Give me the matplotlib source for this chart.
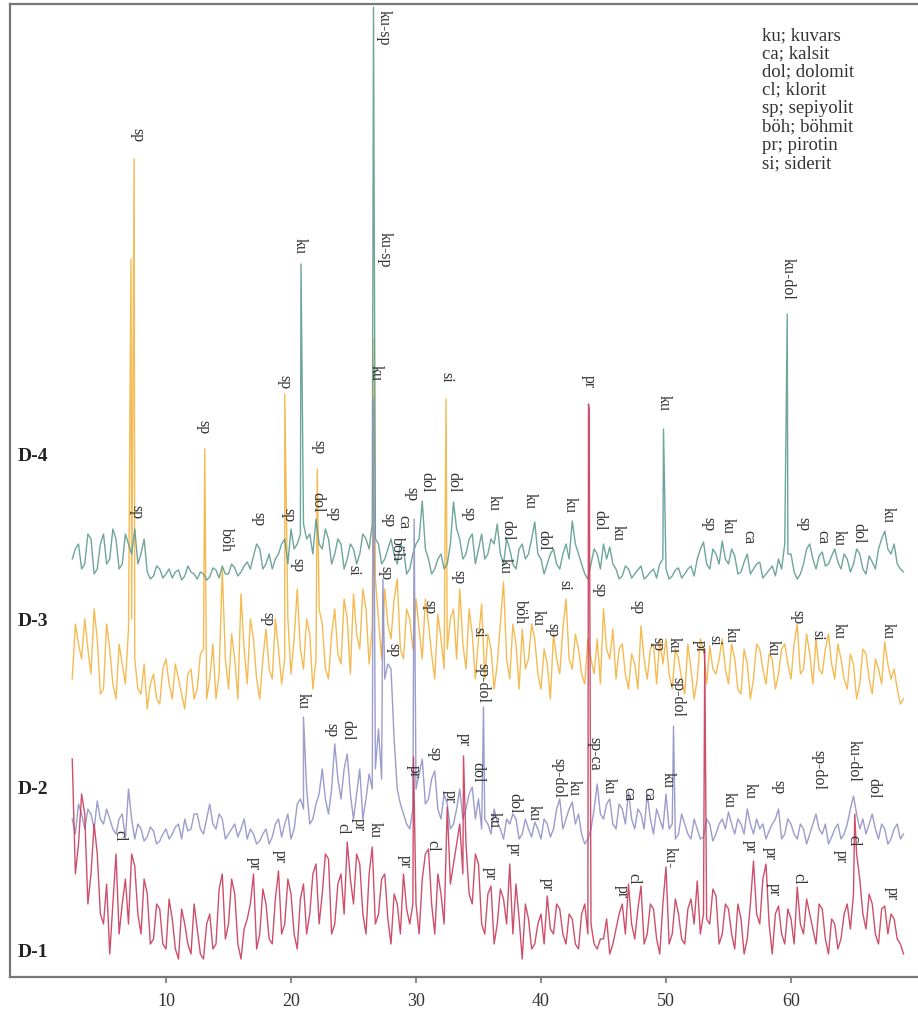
import numpy as np
import matplotlib.pyplot as plt

# ── Data: 2θ grid ─────────────────────────────────────────────────────────────
# base values on 2.5, 3.0, ... 69.0 ; mid values on 2.75, 3.25, ... 68.75

TWO_THETA_START = 2.5
TWO_THETA_STEP = 0.5

d4_base = [
    25, 40, 20, 45, 15, 50, 25, 45, 20, 40,
    55, 30, 12, 8, 15, 10, 6, 14, 8, 12,
    5, 10, 7, 14, 18, 10, 16, 12, 22, 28,
    35, 20, 15, 30, 45, 55, 40, 60, 50, 65,
    35, 45, 30, 40, 25, 35, 30, 45, 60, 40,
    25, 45, 20, 35, 15, 40, 83, 25, 15, 30,
    20, 82, 45, 30, 50, 35, 25, 45, 60, 20,
    35, 15, 40, 30, 62, 25, 20, 35, 15, 40,
    63, 30, 10, 20, 30, 40, 37, 15, 8, 15,
    10, 18, 8, 15, 20, 15, 8, 16, 10, 18,
    25, 42, 15, 30, 43, 20, 28, 12, 30, 15,
    22, 10, 18, 25, 40, 30, 5, 20, 40, 15,
    32, 20, 35, 15, 25, 20, 30, 10, 22, 35,
    53, 30, 20, 12,
]
d4_mid = [
    35, 15, 50, 10, 40, 20, 55, 15, 50, 30,
    20, 45, 5, 18, 6, 15, 12, 4, 18, 10,
    12, 4, 16, 6, 10, 20, 8, 18, 15, 40,
    15, 30, 25, 40, 20, 35, 50, 45, 30, 40,
    55, 20, 45, 15, 40, 20, 50, 35, 45, 20,
    35, 30, 40, 10, 30, 45, 35, 10, 25, 15,
    40, 55, 25, 45, 20, 50, 30, 40, 30, 45,
    20, 35, 25, 45, 30, 10, 30, 20, 30, 25,
    40, 20, 5, 35, 15, 25, 20, 5, 18, 6,
    14, 5, 12, 6, 25, 5, 14, 6, 15, 8,
    35, 20, 35, 20, 25, 35, 10, 22, 10, 20,
    6, 14, 8, 15, 30, 12, 10, 35, 25, 28,
    18, 28, 22, 30, 12, 35, 15, 28, 15, 45,
    35, 40, 15,
]
d3_base = [
    40, 75, 100, 45, 80, 30, 70, 20, 55, 90,
    60, 25, 10, 45, 15, 60, 20, 40, 10, 50,
    30, 70, 40, 20, 150, 30, 60, 125, 35, 80,
    20, 90, 40, 70, 60, 45, 130, 50, 85, 60,
    95, 40, 110, 55, 100, 125, 70, 110, 90, 100,
    130, 80, 140, 60, 100, 120, 60, 95, 40, 80,
    70, 110, 130, 50, 85, 80, 40, 70, 55, 137,
    40, 75, 90, 60, 80, 30, 55, 85, 45, 120,
    50, 70, 35, 60, 80, 110, 60, 40, 75, 30,
    55, 93, 40, 75, 80, 80, 30, 60, 25, 50,
    40, 70, 73, 45, 80, 35, 60, 25, 55, 40,
    70, 35, 60, 45, 75, 40, 95, 50, 65, 80,
    45, 85, 40, 60, 30, 55, 35, 65, 25, 50,
    77, 40, 30, 20,
]
d3_mid = [
    95, 60, 70, 110, 25, 95, 35, 75, 35, 100,
    30, 55, 35, 20, 50, 35, 55, 25, 45, 20,
    65, 20, 75, 45, 60, 85, 20, 70, 100, 40,
    60, 50, 100, 35, 100, 80, 70, 100, 30, 110,
    50, 85, 65, 120, 45, 85, 130, 55, 140, 60,
    95, 120, 70, 110, 70, 90, 120, 65, 105, 50,
    100, 60, 75, 110, 40, 115, 85, 30, 95, 60,
    95, 30, 50, 95, 45, 70, 20, 60, 90, 60,
    85, 45, 80, 45, 35, 70, 90, 70, 45, 65,
    30, 60, 70, 35, 55, 45, 70, 40, 75, 20,
    80, 35, 50, 60, 50, 75, 30, 70, 20, 75,
    50, 65, 30, 70, 55, 75, 45, 85, 35, 50,
    70, 55, 75, 40, 65, 20, 70, 40, 60, 35,
    55, 50, 15,
]
d2_base = [
    30, 45, 20, 35, 48, 25, 30, 15, 35, 60,
    10, 20, 12, 18, 8, 20, 15, 25, 30, 20,
    35, 15, 45, 20, 30, 15, 25, 20, 10, 15,
    8, 20, 12, 30, 25, 10, 45, 40, 25, 45,
    80, 35, 105, 50, 95, 30, 80, 50, 60, 120,
    170, 180, 60, 35, 20, 60, 90, 50, 78, 30,
    45, 25, 60, 40, 62, 50, 30, 15, 27, 10,
    25, 30, 15, 20, 27, 10, 25, 20, 50, 30,
    47, 35, 5, 20, 65, 30, 50, 20, 40, 57,
    20, 35, 55, 15, 30, 55, 25, 15, 25, 10,
    20, 12, 25, 15, 30, 37, 15, 25, 40, 15,
    20, 10, 25, 40, 15, 25, 10, 20, 15, 35,
    15, 5, 20, 10, 25, 53, 20, 15, 35, 10,
    20, 10, 25, 15,
]
d2_mid = [
    15, 35, 40, 20, 30, 40, 20, 30, 10, 30,
    25, 8, 22, 5, 15, 10, 22, 10, 18, 35,
    20, 30, 25, 35, 10, 20, 12, 30, 20, 5,
    15, 5, 25, 12, 35, 20, 50, 60, 30, 55,
    50, 60, 70, 80, 55, 55, 30, 75, 80, 70,
    185, 110, 45, 25, 40, 75, 45, 70, 40, 55,
    20, 40, 30, 55, 30, 20, 25, 40, 20, 30,
    35, 10, 30, 12, 20, 30, 12, 40, 20, 40,
    25, 15, 10, 40, 35, 45, 25, 45, 25, 30,
    40, 20, 30, 40, 20, 20, 10, 35, 15, 30,
    10, 30, 8, 25, 20, 25, 30, 15, 25, 30,
    25, 18, 30, 10, 30, 15, 25, 5, 25, 20,
    25, 12, 25, 15, 40, 35, 30, 25, 20, 25,
    5, 20, 10,
]
d1_base = [
    205, 120, 150, 90, 110, 40, 10, 110, 60, 40,
    98, 30, 70, 25, 55, 15, 45, 5, 40, 10,
    35, 5, 50, 20, 90, 40, 70, 5, 45, 90,
    30, 60, 20, 93, 40, 70, 15, 80, 50, 100,
    70, 105, 40, 90, 122, 60, 100, 30, 117, 50,
    90, 20, 60, 90, 40, 60, 85, 115, 30, 70,
    157, 100, 140, 120, 60, 100, 30, 78, 40, 65,
    100, 80, 5, 45, 20, 50, 68, 30, 55, 20,
    45, 15, 60, 40, 15, 25, 10, 35, 60, 80,
    25, 78, 30, 55, 10, 97, 30, 50, 20, 65,
    83, 50, 40, 68, 30, 55, 15, 45, 25, 103,
    40, 100, 10, 58, 20, 45, 77, 30, 50, 20,
    55, 10, 40, 25, 60, 70, 85, 35, 60, 20,
    58, 50, 25, 10,
]
d1_mid = [
    90, 170, 60, 140, 50, 80, 60, 30, 85, 110,
    50, 85, 20, 60, 20, 65, 15, 55, 20, 60,
    10, 40, 15, 75, 25, 85, 20, 35, 60, 15,
    75, 25, 65, 30, 85, 30, 65, 30, 90, 40,
    110, 30, 80, 50, 85, 110, 50, 90, 40, 85,
    45, 70, 30, 55, 60, 30, 110, 60, 90, 40,
    80, 120, 90, 70, 110, 40, 70, 20, 75, 40,
    30, 45, 60, 15, 40, 20, 35, 60, 30, 50,
    20, 50, 30, 20, 25, 45, 20, 50, 30, 40,
    55, 20, 60, 25, 60, 20, 65, 25, 55, 40,
    30, 45, 75, 20, 60, 30, 60, 10, 60, 50,
    85, 40, 50, 30, 55, 20, 40, 65, 35, 60,
    25, 45, 15, 50, 35, 110, 50, 70, 30, 55,
    30, 45, 20,
]

# sharp reflections (2θ, intensity)
d4_peaks = [(20.8, 320), (26.6, 577), (49.8, 155), (59.7, 270)]
d3_peaks = [(7.2, 460), (7.45, 560), (13.1, 270), (19.5, 325), (22.1, 250),
            (26.65, 380), (32.4, 320)]
d2_peaks = [(21.0, 132), (26.6, 450), (27.35, 270), (29.85, 330),
            (35.4, 142), (50.6, 123)]
d1_peaks = [(29.8, 207), (33.8, 208), (43.8, 560), (43.85, 555),
            (53.1, 315), (65.1, 150)]

sample_names = ["D-4", "D-3", "D-2", "D-1"]

# peak labels (text, 2θ, label top)
peak_labels = [
    ("sp", 7.7, 850), ("ku-sp", 27.4, 968), ("ku", 20.7, 740), ("ku-sp", 27.5, 746),
    ("ku-dol", 59.7, 720), ("sp", 13.0, 558), ("sp", 19.5, 603), ("ku", 26.8, 613),
    ("si", 32.4, 606), ("pr", 43.8, 603), ("ku", 49.8, 583), ("sp", 22.2, 538),
    ("dol", 22.1, 486), ("sp", 23.4, 471), ("sp", 7.6, 473), ("böh", 14.8, 450),
    ("sp", 17.4, 466), ("sp", 19.8, 470), ("sp", 20.5, 420), ("sp", 18.1, 366),
    ("ku", 20.9, 285), ("si", 25.0, 413), ("sp", 27.8, 465), ("böh", 28.45, 441),
    ("ca", 29.0, 463), ("sp", 27.55, 412), ("sp", 29.6, 491), ("dol", 30.8, 506),
    ("dol", 33.0, 506), ("sp", 34.2, 471), ("sp", 33.4, 408), ("ku", 36.2, 483),
    ("dol", 37.3, 458), ("ku", 37.1, 420), ("ku", 39.1, 485), ("dol", 40.2, 448),
    ("ku", 42.3, 481), ("si", 41.9, 398), ("dol", 44.7, 468), ("ku", 46.1, 453),
    ("sp", 44.7, 395), ("sp", 31.1, 378), ("si", 35.0, 351), ("sp-dol", 35.3, 315),
    ("böh", 38.3, 378), ("ku", 39.7, 368), ("sp", 40.9, 355), ("sp", 28.2, 335),
    ("sp", 53.4, 461), ("ku", 54.9, 460), ("ca", 56.6, 448), ("sp", 61.0, 461),
    ("ca", 62.5, 448), ("ku", 63.8, 448), ("dol", 65.4, 455), ("ku", 67.7, 471),
    ("sp", 47.7, 378), ("sp", 49.3, 341), ("ku", 50.6, 341), ("pr", 52.7, 338),
    ("si", 53.9, 343), ("ku", 55.2, 351), ("ku", 58.5, 338), ("sp", 60.5, 368),
    ("si", 62.1, 348), ("ku", 63.8, 355), ("ku", 67.7, 355),
    ("cl", 6.3, 148), ("pr", 17.0, 121), ("pr", 19.1, 128), ("sp", 23.2, 255),
    ("dol", 24.5, 258), ("cl", 24.1, 155), ("pr", 25.4, 160), ("ku", 26.7, 156),
    ("pr", 29.8, 213), ("sp", 31.5, 231), ("pr", 29.1, 123), ("cl", 31.3, 138),
    ("pr", 32.7, 188), ("pr", 33.8, 245), ("dol", 34.9, 216), ("ku", 36.2, 166),
    ("dol", 37.9, 185), ("pr", 35.9, 111), ("pr", 37.8, 135), ("ku", 39.4, 173),
    ("pr", 40.5, 100), ("sp-dol", 41.4, 220), ("ku", 42.6, 198), ("sp-ca", 44.3, 241),
    ("ku", 45.4, 200), ("pr", 46.5, 93), ("ca", 47.0, 191), ("ca", 48.6, 191),
    ("ku", 50.1, 206), ("sp-dol", 50.9, 301), ("ku-", 50.3, 131), ("cl", 47.4, 105),
    ("ku", 55.0, 186), ("ku", 56.7, 195), ("sp", 59.0, 198), ("sp-dol", 62.2, 228),
    ("ku-dol", 65.0, 238), ("dol", 66.6, 200), ("pr", 56.7, 138), ("pr", 58.3, 131),
    ("pr", 58.6, 95), ("cl", 60.6, 105), ("pr", 64.0, 128), ("cl", 65.0, 143),
    ("pr", 68.1, 91),
]

legend_lines = ["ku; kuvars", "ca; kalsit", "dol; dolomit", "cl; klorit",
                "sp; sepiyolit", "böh; böhmit", "pr; pirotin", "si; siderit"]

x_ticks = [10, 20, 30, 40, 50, 60]

# ── Style ─────────────────────────────────────────────────────────────────────

OFFSETS = {"D-4": 393, "D-3": 258, "D-2": 128, "D-1": 13}
COLORS = {"D-4": "#5e9c8f", "D-3": "#f5b340", "D-2": "#9191c8", "D-1": "#c83c5c"}
TEXT_COL = "#333333"
SPINE_COL = "#777777"

plt.rcParams.update({
    "font.family": ["Liberation Serif", "DejaVu Serif"],
    "text.color": TEXT_COL,
    "xtick.color": TEXT_COL,
})


def build_trace(base, mid, peaks):
    xb = TWO_THETA_START + TWO_THETA_STEP * np.arange(len(base))
    xm = TWO_THETA_START + TWO_THETA_STEP * (np.arange(len(mid)) + 0.5)
    xp = np.array([p[0] for p in peaks])
    yp = np.array([p[1] for p in peaks])
    xs = np.concatenate([xb, xm, xp])
    ys = np.concatenate([np.asarray(base, float), np.asarray(mid, float), yp])
    order = np.argsort(xs, kind="stable")
    return xs[order], ys[order]


traces = {
    "D-4": build_trace(d4_base, d4_mid, d4_peaks),
    "D-3": build_trace(d3_base, d3_mid, d3_peaks),
    "D-2": build_trace(d2_base, d2_mid, d2_peaks),
    "D-1": build_trace(d1_base, d1_mid, d1_peaks),
}

# ── Plot ──────────────────────────────────────────────────────────────────────

fig = plt.figure(figsize=(9.18, 10.12), dpi=100)
ax = fig.add_axes([10 / 918, 34 / 1012, 908 / 918, 973 / 1012])

for name in ["D-3", "D-4", "D-2", "D-1"]:
    x, y = traces[name]
    ax.plot(x, y + OFFSETS[name], color=COLORS[name], lw=1.0, alpha=0.9)

for text, tt, yt in peak_labels:
    ax.text(tt, yt, text, rotation=-90, ha="center", va="top",
            fontsize=11.5, color=TEXT_COL)

label_y = {"D-4": 457, "D-3": 622, "D-2": 790, "D-1": 953}
for name in sample_names:
    fig.text(18 / 918, 1 - label_y[name] / 1012, name, fontsize=14,
             fontweight="bold", va="center", ha="left", color="#222222")

fig.text(762 / 918, 1 - 27 / 1012, "\n".join(legend_lines), fontsize=13.5,
         va="top", ha="left", linespacing=1.1, color=TEXT_COL)

ax.set_xlim(-2.48, 70.16)
ax.set_ylim(0, 973)
ax.set_xticks(x_ticks)
ax.set_yticks([])
ax.tick_params(axis="x", direction="out", length=4, width=1.2, labelsize=13,
               pad=7, color=SPINE_COL)
for side in ["left", "bottom", "top"]:
    ax.spines[side].set_color(SPINE_COL)
    ax.spines[side].set_linewidth(1.6)
ax.spines["right"].set_visible(False)

fig.savefig("out.png", dpi=100, facecolor="white")
